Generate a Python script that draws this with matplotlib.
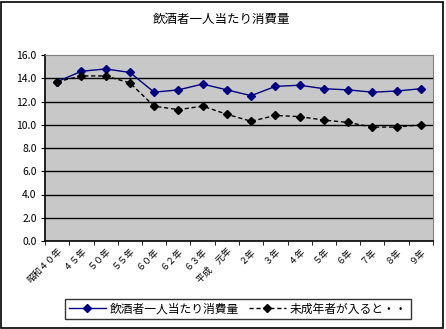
import matplotlib
matplotlib.use('Agg')
import matplotlib.pyplot as plt
from matplotlib.patches import Rectangle

plt.rcParams['font.family'] = ['Noto Sans CJK JP', 'DejaVu Sans']

years = ['昭和４０年', '４５年', '５０年', '５５年', '６０年', '６２年', '６３年', '平成　元年',
         '２年', '３年', '４年', '５年', '６年', '７年', '８年', '９年']
per_drinker = [13.7, 14.6, 14.8, 14.5, 12.8, 13.0, 13.5, 13.0,
               12.5, 13.3, 13.4, 13.1, 13.0, 12.8, 12.9, 13.1]
with_minors = [13.7, 14.2, 14.2, 13.6, 11.6, 11.3, 11.6, 10.9,
               10.3, 10.8, 10.7, 10.4, 10.2, 9.8, 9.8, 10.0]
yticks = [0, 2, 4, 6, 8, 10, 12, 14, 16]

W, H = 446, 329
fig = plt.figure(figsize=(W / 100, H / 100), dpi=100)

# outer chart frame
fig.patches.append(Rectangle((1 / W, 1 / H), 442 / W, 326 / H, transform=fig.transFigure,
                             fill=False, edgecolor='black', linewidth=1.2))

ax = fig.add_axes([45 / W, 1 - 241 / H, 388 / W, 186 / H])
ax.set_facecolor('#c8c8c8')
x = list(range(len(years)))

ax.plot(x, per_drinker, color='#000080', linewidth=1, marker='D', markersize=4.5,
        label='飲酒者一人当たり消費量', zorder=3)
ax.plot(x, with_minors, color='black', linewidth=1, linestyle=(0, (3, 2)), marker='D',
        markersize=4.5, label='未成年者が入ると・・', zorder=3)

ax.set_xlim(-0.5, len(years) - 0.5)
ax.set_ylim(0, 16)
ax.set_yticks(yticks)
ax.set_yticklabels(['%.1f' % v for v in yticks], fontsize=7.5)
for v in yticks[1:-1]:
    ax.axhline(v, color='black', linewidth=1, zorder=1)

ax.set_xticks(x)
ax.set_xticklabels(years, fontsize=6.5, rotation=45, ha='right', va='top',
                   rotation_mode='anchor')
ax.tick_params(axis='x', length=0, pad=4)
ax.set_xticks([i - 0.5 for i in range(len(years) + 1)], minor=True)
ax.tick_params(axis='x', which='minor', length=3, direction='out', color='black')
ax.tick_params(axis='y', length=3, direction='out', pad=3)

for s in ['top', 'right']:
    ax.spines[s].set_color('#808080')
for s in ['left', 'bottom']:
    ax.spines[s].set_color('black')
    ax.spines[s].set_linewidth(1.2)

fig.text(222 / W, 1 - 19 / H, '飲酒者一人当たり消費量', ha='center', va='center', fontsize=9)

leg = fig.legend(loc='center', bbox_to_anchor=(238 / W, 1 - 309 / H), ncol=2,
                 fontsize=8.5, frameon=True, fancybox=False, handlelength=3.2,
                 handletextpad=0.3, columnspacing=0.8, borderpad=0.3)
leg.get_frame().set_edgecolor('black')
leg.get_frame().set_linewidth(1)

fig.savefig('out.png', dpi=100)
